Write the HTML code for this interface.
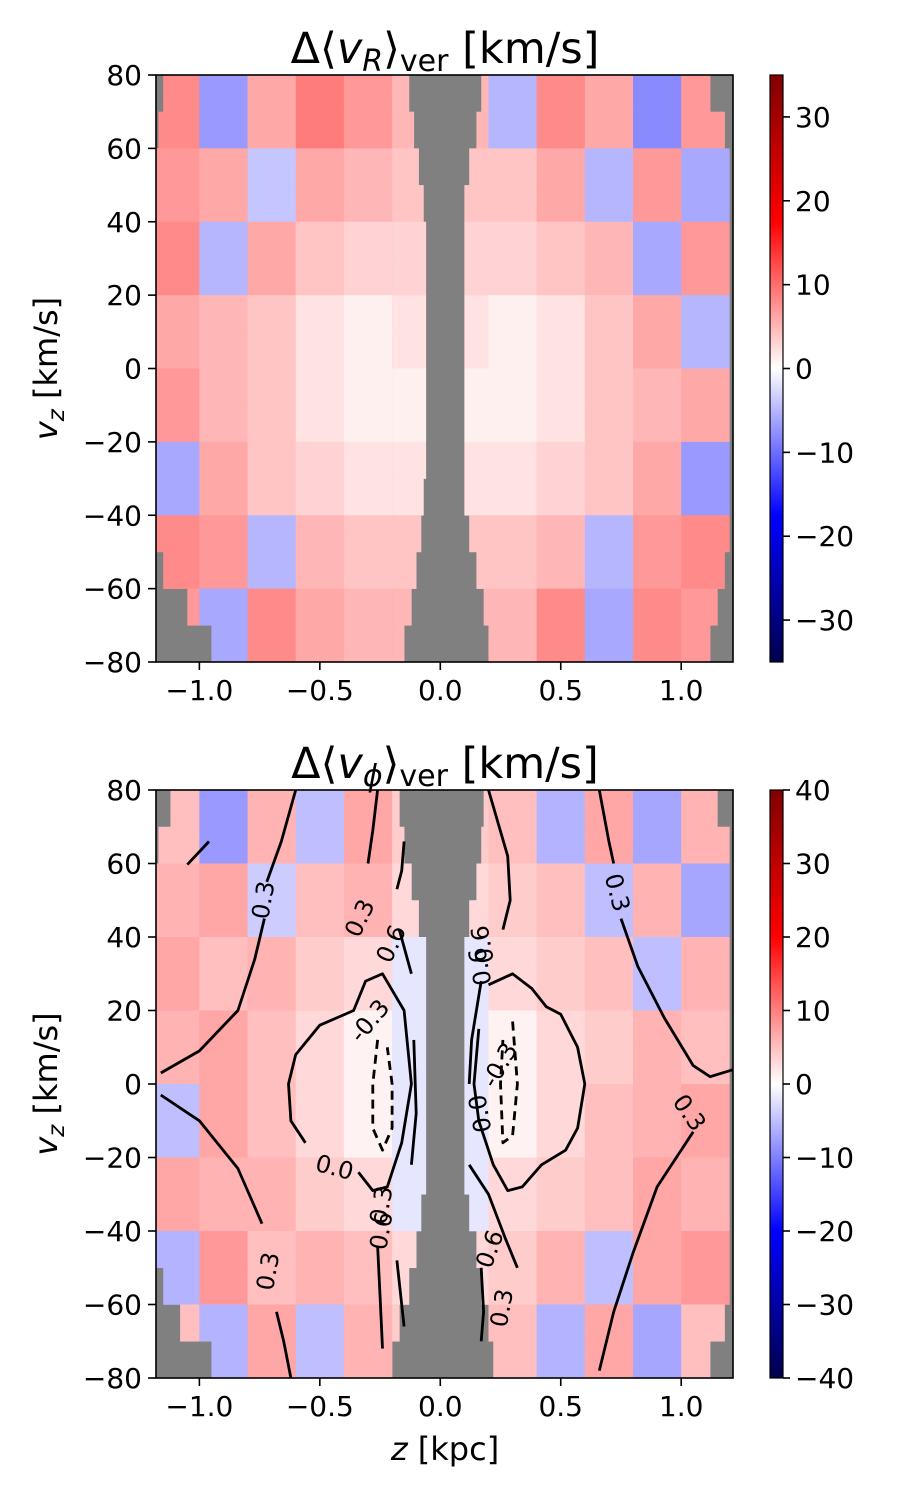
<!DOCTYPE html>
<html><head><meta charset="utf-8"><style>
body{margin:0;background:#fff;width:900px;height:1500px;overflow:hidden}
svg text{font-family:"DejaVu Sans","Liberation Sans",sans-serif;fill:#000}
</style></head><body>
<svg id="fig" width="900" height="1500" viewBox="0 0 900 1500" xmlns="http://www.w3.org/2000/svg">
<defs>
<linearGradient id="cmap" x1="0" y1="1" x2="0" y2="0">
<stop offset="0" stop-color="#00004d"/><stop offset="0.25" stop-color="#0000ff"/><stop offset="0.5" stop-color="#ffffff"/><stop offset="0.75" stop-color="#ff0000"/><stop offset="1" stop-color="#800000"/>
</linearGradient>
<clipPath id="clipA"><rect x="156" y="75" width="577" height="587"/></clipPath>
<clipPath id="clipB"><rect x="156" y="790" width="577" height="588"/></clipPath>
</defs>
<g id="layer"></g>
</svg>
<script>
// ---- data ----
const zBinEdges=[-1.2,-1.0,-0.8,-0.6,-0.4,-0.2,0.0,0.2,0.4,0.6,0.8,1.0,1.2];
const vzBinEdges=[80,60,40,20,0,-20,-40,-60,-80];
const topValues=[
[8,-7,6,9,7,5,5,-5,8,6,-8,7],
[7,6,-4,6,5,4,4,4,6,-5,7,-6],
[8,-5,6,4,3,3,3,3,4,5,-6,7],
[6,5,4,2,1,2,2,1,2,4,6,-5],
[7,5,4,2,1,1,1,1,2,4,5,6],
[-6,6,4,3,2,2,2,2,3,4,6,-7],
[8,7,-5,5,4,4,4,4,5,-5,7,8],
[7,-6,8,6,5,5,5,5,8,-6,8,7]];
const botValues=[
[5,-8,6,-5,7,4,4,5,-6,7,-7,6],
[6,7,-4,5,6,3,3,4,5,-5,6,-7],
[7,5,6,4,3,-2,-2,3,4,5,-5,6],
[6,7,5,3,1,-2,-2,1,3,4,6,5],
[-5,7,5,3,1,-2,-2,1,3,5,6,7],
[7,6,6,4,3,-2,-2,3,4,5,7,6],
[-6,8,5,6,5,3,3,4,6,-5,7,8],
[5,-6,7,-5,6,4,4,5,-6,7,-7,5]];
// data extent per 10 km/s row (top->bottom): [leftMin,leftMax,rightMin,rightMax]
const topMaskRows=[
[-1.15,-0.13,0.17,1.12],[-1.17,-0.11,0.15,1.18],[-1.18,-0.09,0.12,1.2],[-1.18,-0.07,0.1,1.22],
[-1.18,-0.06,0.1,1.22],[-1.18,-0.06,0.1,1.22],[-1.18,-0.06,0.1,1.22],[-1.18,-0.06,0.1,1.22],
[-1.18,-0.06,0.1,1.22],[-1.18,-0.06,0.1,1.22],[-1.18,-0.06,0.1,1.22],[-1.18,-0.07,0.1,1.22],
[-1.18,-0.08,0.12,1.2],[-1.15,-0.1,0.15,1.18],[-1.05,-0.12,0.18,1.15],[-0.95,-0.15,0.2,1.12]];
const botMaskRows=[
[-1.12,-0.17,0.18,1.15],[-1.17,-0.15,0.17,1.2],[-1.18,-0.12,0.15,1.22],[-1.18,-0.09,0.12,1.22],
[-1.18,-0.06,0.1,1.22],[-1.18,-0.06,0.1,1.22],[-1.18,-0.06,0.1,1.22],[-1.18,-0.06,0.1,1.22],
[-1.18,-0.06,0.1,1.22],[-1.18,-0.06,0.1,1.22],[-1.18,-0.06,0.1,1.22],[-1.18,-0.08,0.12,1.22],
[-1.18,-0.1,0.15,1.22],[-1.15,-0.13,0.17,1.2],[-1.08,-0.17,0.2,1.18],[-0.95,-0.2,0.22,1.12]];
const xTicks=[-1.0,-0.5,0.0,0.5,1.0];
const xTickLabels=["\u22121.0","\u22120.5","0.0","0.5","1.0"];
const yTicks=[80,60,40,20,0,-20,-40,-60,-80];
const yTickLabels=["80","60","40","20","0","\u221220","\u221240","\u221260","\u221280"];
const cbTopTicks=[30,20,10,0,-10,-20,-30];
const cbBotTicks=[40,30,20,10,0,-10,-20,-30,-40];
// contour lines (z kpc, vz km/s)
const contours=[
{lvl:"0.3",dash:false,pts:[[-1.05,59.7],[-0.96,66]]},
{lvl:"0.3",dash:false,pts:[[-0.6,80],[-0.66,66],[-0.72,55]]},
{lvl:"0.3",dash:false,pts:[[-0.73,45],[-0.77,34],[-0.84,20],[-1.0,9],[-1.16,3]]},
{lvl:"0.3",dash:false,pts:[[-1.16,-3],[-1.0,-10],[-0.84,-23],[-0.74,-38]]},
{lvl:"0.3",dash:false,pts:[[-0.68,-62],[-0.65,-70],[-0.62,-80]]},
{lvl:"0.0",dash:false,pts:[[-0.34,-24],[-0.28,-29],[-0.22,-28],[-0.16,-16],[-0.12,0],[-0.15,20],[-0.24,30],[-0.31,28],[-0.36,20],[-0.43,18],[-0.5,16],[-0.6,8],[-0.63,0],[-0.62,-10],[-0.56,-16]]},
{lvl:"-0.3",dash:true,pts:[[-0.26,12],[-0.28,0],[-0.28,-12],[-0.24,-18],[-0.2,-12],[-0.2,0],[-0.22,10]]},
{lvl:"0.3",dash:false,pts:[[-0.26,80],[-0.28,69],[-0.3,60]]},
{lvl:"0.6",dash:false,pts:[[-0.15,66],[-0.16,58],[-0.18,53]]},
{lvl:"0.6",dash:false,pts:[[-0.17,42],[-0.12,30]]},
{lvl:"0.3",dash:false,pts:[[-0.11,12],[-0.1,-8],[-0.12,-22]]},
{lvl:"0.6",dash:false,pts:[[-0.26,-44],[-0.25,-58],[-0.24,-72]]},
{lvl:"0.6",dash:false,pts:[[-0.18,-48],[-0.16,-60],[-0.15,-66]]},
{lvl:"0.3",dash:false,pts:[[0.66,80],[0.7,66],[0.72,60]]},
{lvl:"0.3",dash:false,pts:[[0.75,45],[0.82,32],[0.93,18],[1.05,5],[1.12,2],[1.22,4]]},
{lvl:"0.3",dash:false,pts:[[1.05,-13],[0.9,-28],[0.8,-46],[0.72,-62],[0.66,-78]]},
{lvl:"0.0",dash:false,pts:[[0.2,27],[0.3,30],[0.38,26],[0.44,21],[0.5,19],[0.57,10],[0.6,0],[0.57,-12],[0.52,-18],[0.42,-22],[0.34,-28],[0.28,-29],[0.22,-22],[0.16,-10],[0.14,0],[0.16,15]]},
{lvl:"-0.3",dash:true,pts:[[0.3,17],[0.32,0],[0.3,-14],[0.26,-16],[0.25,0],[0.26,12]]},
{lvl:"0.3",dash:false,pts:[[0.2,80],[0.28,62],[0.29,50],[0.26,42]]},
{lvl:"0.6",dash:false,pts:[[0.17,28],[0.13,12],[0.12,0]]},
{lvl:"0.6",dash:false,pts:[[0.12,-22],[0.2,-30],[0.27,-42],[0.32,-50]]},
{lvl:"0.6",dash:false,pts:[[0.17,-50],[0.18,-62],[0.17,-70]]}];
const contourLabels=[["0.3",-0.73,50,-80],["0.3",-0.33,45,-65],["0.6",-0.2,38,-65],["-0.3",-0.29,17,-50],["0.0",-0.44,-23,15],["0.3",-0.24,-33,-80],["0.6",-0.24,-40,-80],["0.3",-0.71,-51,-80],["0.3",0.73,52,75],["0.6",0.18,38,-100],["0.6",0.17,32,-100],["-0.3",0.25,5,-60],["0.0",0.17,-8,-100],["0.6",0.21,-45,-70],["0.3",0.26,-61,-80],["0.3",1.03,-8,55]];

const NS="http://www.w3.org/2000/svg";
const layer=document.getElementById('layer');
function mk(tag,attrs,parent){const e=document.createElementNS(NS,tag);for(const k in attrs)e.setAttribute(k,attrs[k]);(parent||layer).appendChild(e);return e;}
function seismic(t){
  const stops=[[-1,[0,0,77]],[-0.5,[0,0,255]],[0,[255,255,255]],[0.5,[255,0,0]],[1,[128,0,0]]];
  t=Math.max(-1,Math.min(1,t));
  for(let i=0;i<4;i++){const a=stops[i],b=stops[i+1];if(t<=b[0]){const f=(t-a[0])/(b[0]-a[0]);return 'rgb('+a[1].map((c,j)=>Math.round(c+(b[1][j]-c)*f)).join(',')+')';}}
}
function panel(P){
  const X=z=>P.x0+(z-(-1.18))/(1.215-(-1.18))*(P.x1-P.x0);
  const Y=v=>P.y0+(80-v)/160*(P.y1-P.y0);
  const g=mk('g',{'clip-path':'url(#'+P.clip+')'});
  
  
  mk('rect',{x:P.x0,y:P.y0,width:P.x1-P.x0,height:P.y1-P.y0,fill:'#808080'},g);
  P.mask.forEach((m,r)=>{
    const vTop=80-r*10,vBot=vTop-10;
    [[m[0],m[1]],[m[2],m[3]]].forEach(seg=>{
      for(let c=0;c<zBinEdges.length-1;c++){
        const a=Math.max(seg[0],zBinEdges[c]),b=Math.min(seg[1],zBinEdges[c+1]);
        if(b<=a)continue;
        const rowC=Math.floor(r/2);
        const val=P.vals[rowC][c];
        const cell=mk('rect',{x:X(a),y:Y(vTop),width:X(b)-X(a)+0.3,height:Y(vBot)-Y(vTop)+0.3,fill:seismic(val/P.vmax)},g);
        
        
      }
    });
  });
  if(P.contours){
    const cg=mk('g',{'clip-path':'url(#'+P.clip+')'});
    
    
    P.contours.forEach(cn=>{
      const d=cn.pts.map((p,i)=>(i?'L':'M')+X(p[0]).toFixed(1)+','+Y(p[1]).toFixed(1)).join(' ');
      const pth=mk('path',{d:d,fill:'none',stroke:'#000','stroke-width':2.8,'stroke-dasharray':cn.dash?'9,6':'none','stroke-linejoin':'round'},cg);
      
      
    });
    contourLabels.forEach(l=>{
      const t=mk('text',{x:X(l[1]),y:Y(l[2]),'font-size':24,'text-anchor':'middle','dominant-baseline':'middle',transform:'rotate('+l[3]+' '+X(l[1])+' '+Y(l[2])+')'},cg);
      t.textContent=l[0];
      
      
    });
  }
  const fr=mk('rect',{x:P.x0,y:P.y0,width:P.x1-P.x0,height:P.y1-P.y0,fill:'none',stroke:'#000','stroke-width':1.6});
  
  
  xTicks.forEach((z,i)=>{
    mk('line',{x1:X(z),x2:X(z),y1:P.y1,y2:P.y1+8,stroke:'#000','stroke-width':1.6});
    const t=mk('text',{x:X(z),y:P.y1+38,'font-size':28,'text-anchor':'middle'});
    t.textContent=xTickLabels[i];
    
    
  });
  yTicks.forEach((v,i)=>{
    mk('line',{x1:P.x0-8,x2:P.x0,y1:Y(v),y2:Y(v),stroke:'#000','stroke-width':1.6});
    const t=mk('text',{x:P.x0-14,y:Y(v)+10,'font-size':28,'text-anchor':'end'});
    t.textContent=yTickLabels[i];
    
    
  });
  const cy=(P.y0+P.y1)/2;
  const yl=mk('text',{x:57,y:cy,'font-size':32,'text-anchor':'middle',transform:'rotate(-90 57 '+cy+')'});
  yl.innerHTML='<tspan font-style="italic">v</tspan><tspan font-size="23" dy="7" font-style="italic">z</tspan><tspan dy="-7"> [km/s]</tspan>';
  
  
  const ti=mk('text',{x:445,y:P.y0-12,'font-size':43,'text-anchor':'middle'});
  ti.innerHTML='Δ⟨<tspan font-style="italic">v</tspan><tspan font-size="30" dy="8" font-style="italic">'+P.sub+'</tspan><tspan dy="-8">⟩</tspan><tspan font-size="30" dy="8">ver</tspan><tspan dy="-8"> [km/s]</tspan>';
  
  
  const cb=mk('rect',{x:770,y:P.y0,width:13,height:P.y1-P.y0,fill:'url(#cmap)',stroke:'#000','stroke-width':1.2});
  
  
  P.cbTicks.forEach(v=>{
    const y=P.y0+(P.vmax-v)/(2*P.vmax)*(P.y1-P.y0);
    mk('line',{x1:783,x2:790,y1:y,y2:y,stroke:'#000','stroke-width':1.6});
    const t=mk('text',{x:795,y:y+10,'font-size':28});
    t.textContent=v<0?'\u2212'+(-v):String(v);
    
    
  });
}
panel({name:'vr-panel',x0:156,x1:733,y0:75,y1:662,clip:'clipA',vals:topValues,mask:topMaskRows,vmax:35,cbTicks:cbTopTicks,sub:'R'});
panel({name:'vphi-panel',x0:156,x1:733,y0:790,y1:1378,clip:'clipB',vals:botValues,mask:botMaskRows,vmax:40,cbTicks:cbBotTicks,sub:'ϕ',contours:contours});
const xl=mk('text',{x:445,y:1460,'font-size':32,'text-anchor':'middle'});
xl.innerHTML='<tspan font-style="italic">z</tspan> [kpc]';


</script>
</body></html>
